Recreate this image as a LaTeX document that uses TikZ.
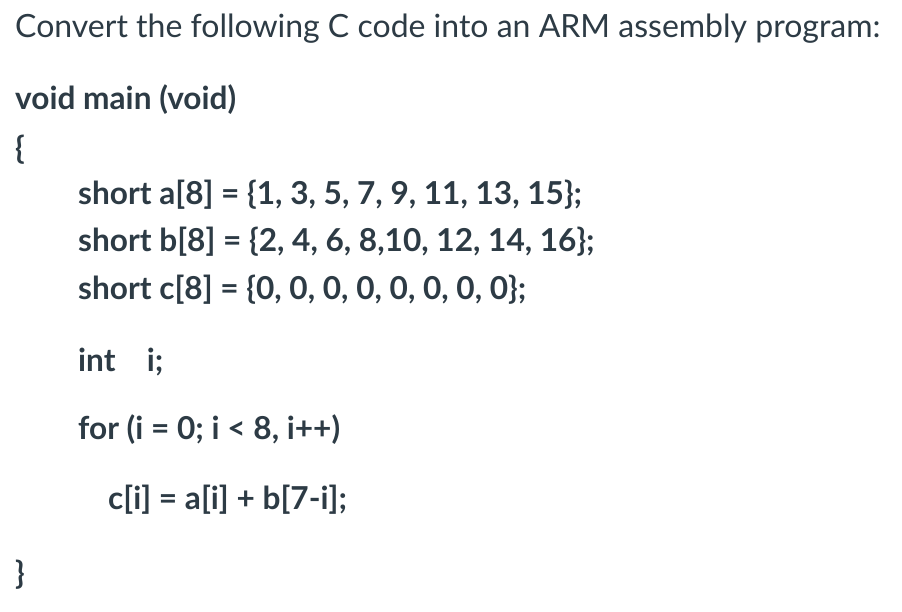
\documentclass[tikz,border=0pt]{standalone}
\usepackage{fontspec}
\setmainfont{Lato}
\definecolor{txt}{HTML}{2D3B45}
\begin{document}
\begin{tikzpicture}[x=1pt,y=1pt,
  t/.style={anchor=base west,inner sep=0pt,text=txt,font=\fontsize{32}{38}\selectfont},
  c/.style={t,font=\fontsize{31.6}{38}\selectfont\bfseries}]
\useasboundingbox[fill=white] (0,0) rectangle (902,612);
\node[t] (title) at (15,612-38) {Convert the following C code into an ARM assembly program:};
\node[c] (l1) at (15,612-110) {void main (void)};
\node[c] (l2) at (15,612-160) {\{};
\node[c] (l3) at (78,612-205) {short a[8] = \{1, 3, 5, 7, 9, 11, 13, 15\};};
\node[c] (l4) at (78,612-252) {short b[8] = \{2, 4, 6, 8,10, 12, 14, 16\};};
\node[c] (l5) at (78,612-300) {short c[8] = \{0, 0, 0, 0, 0, 0, 0, 0\};};
\node[c] (l6) at (78,612-372) {int\hspace{0.75em} i;};
\node[c] (l7) at (78,612-440) {for (i = 0; i < 8, i++)};
\node[c] (l8) at (108,612-510) {c[i] = a[i] + b[7-i];};
\node[c] (l9) at (15,612-585) {\}};
\end{tikzpicture}
\end{document}
